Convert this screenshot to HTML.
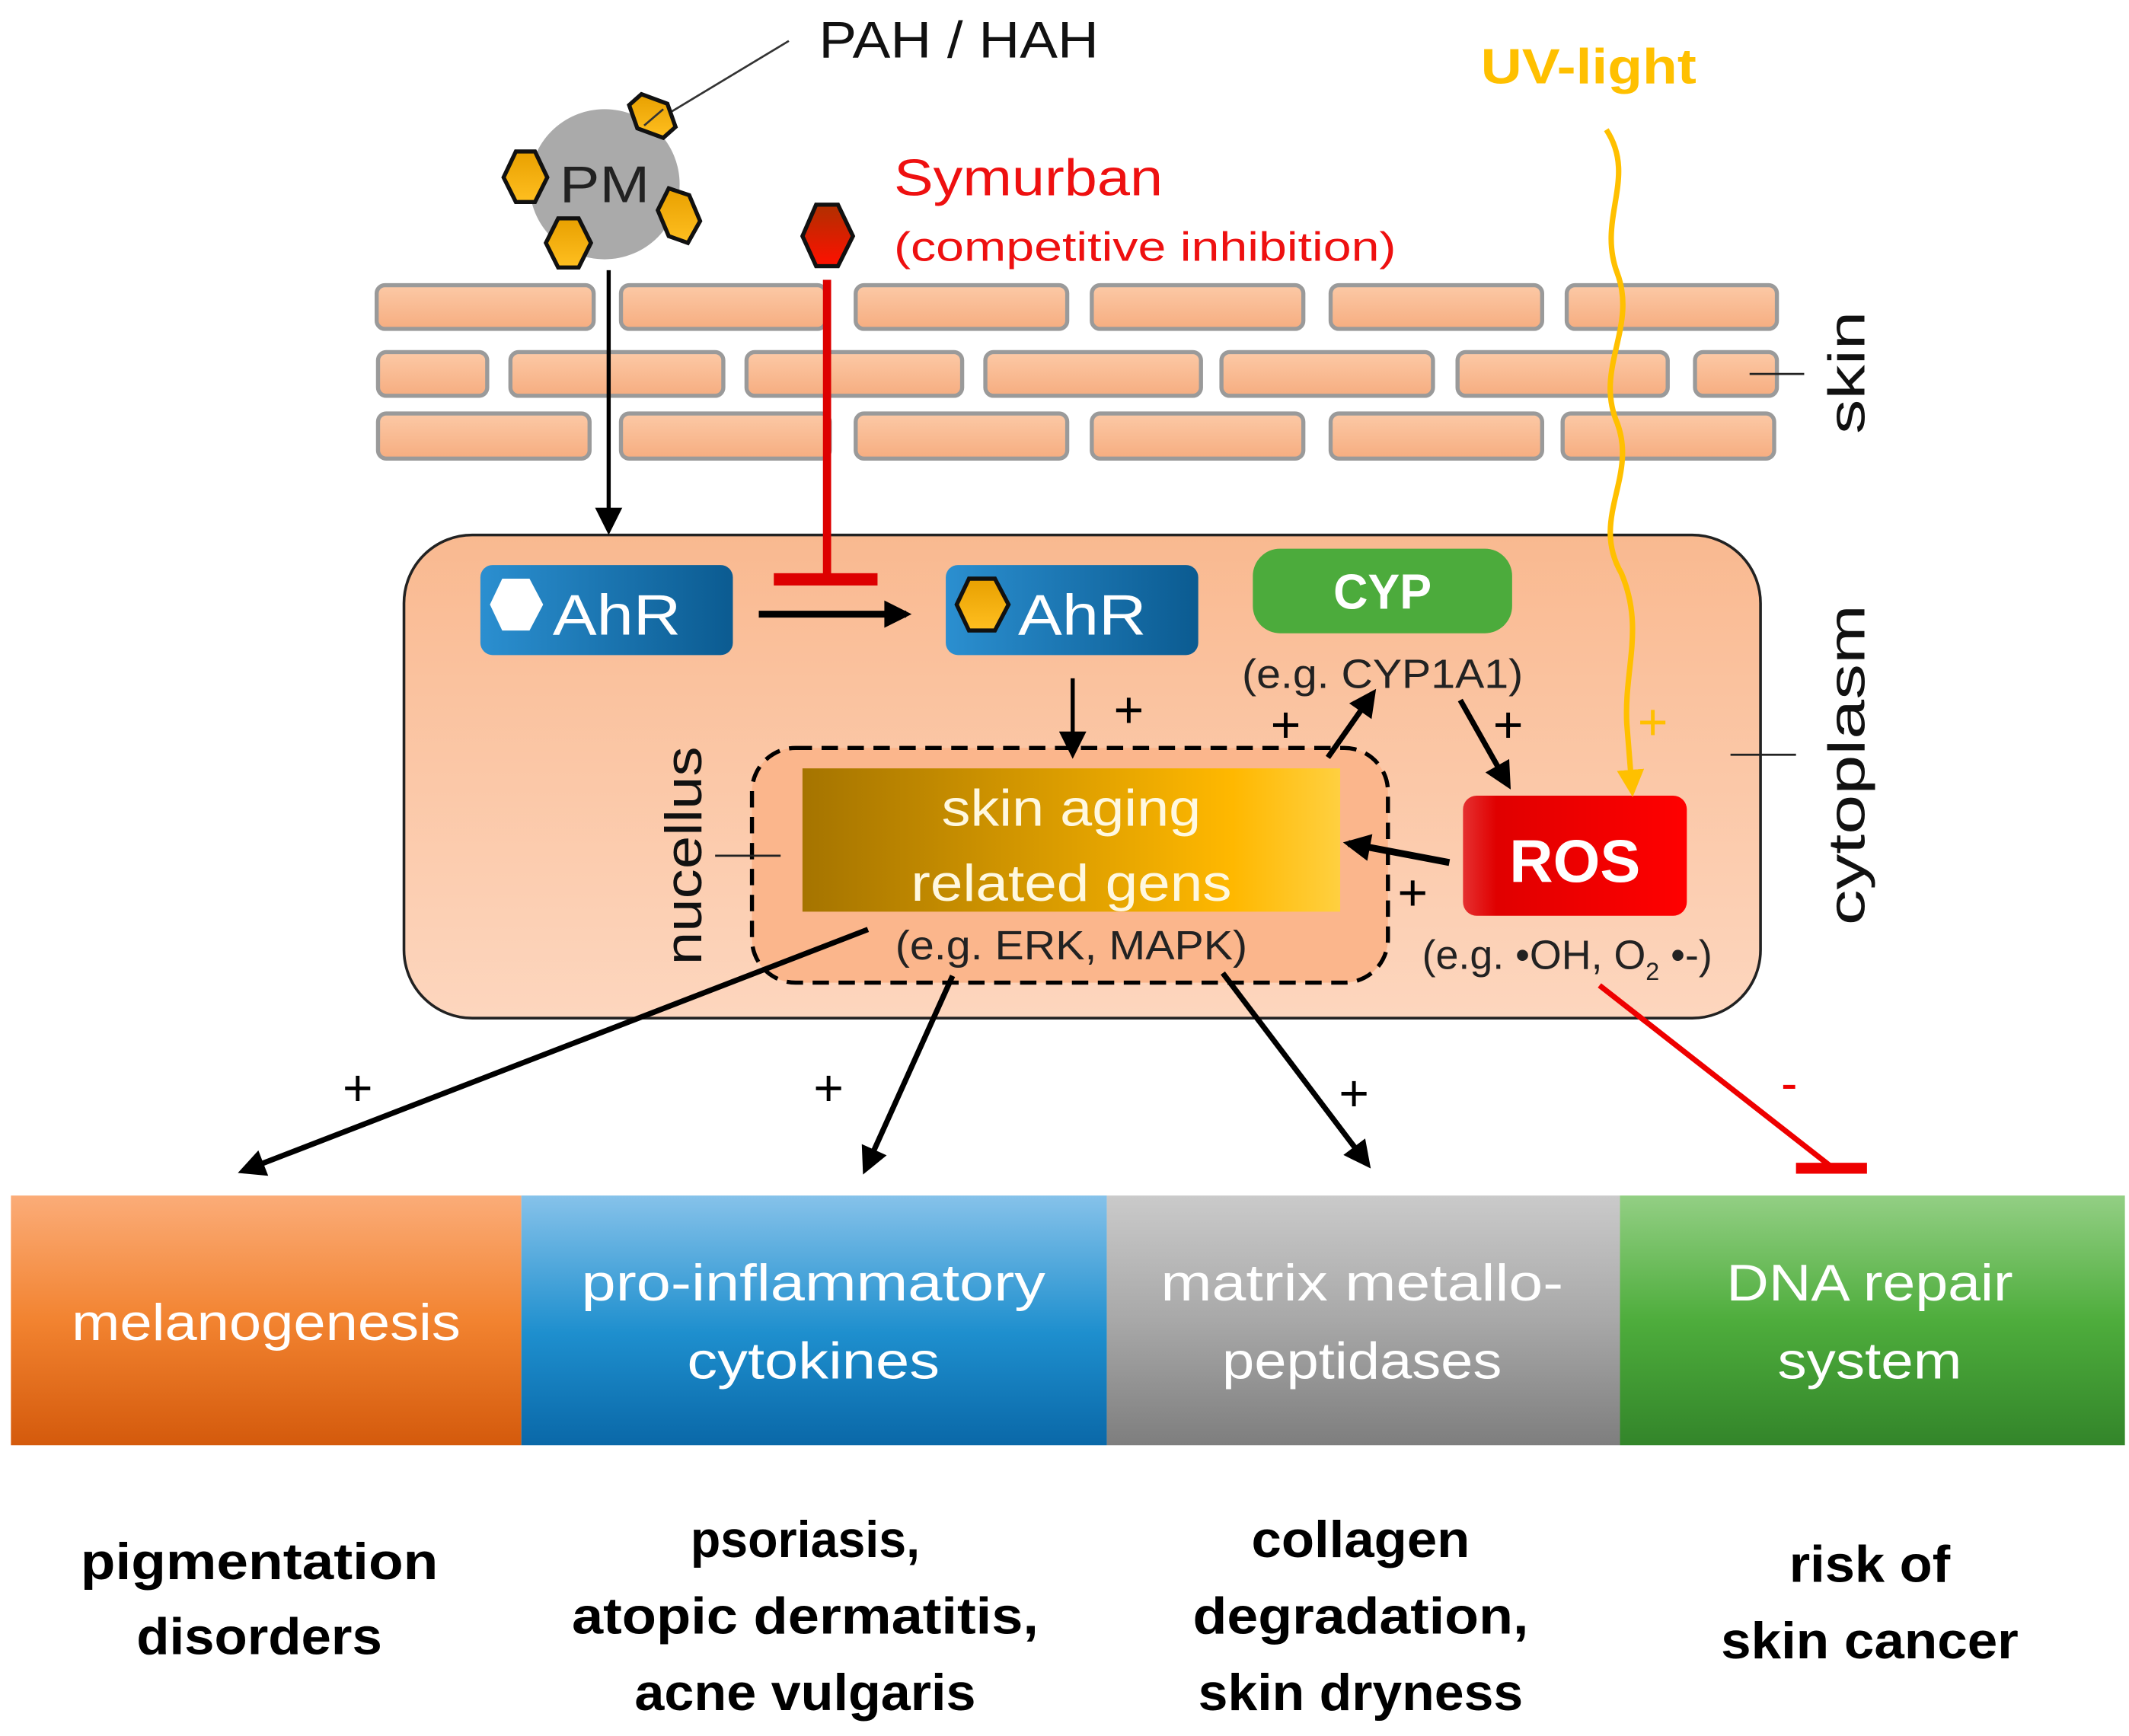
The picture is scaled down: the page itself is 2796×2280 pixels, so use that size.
<!DOCTYPE html>
<html><head><meta charset="utf-8"><style>html,body{margin:0;padding:0;background:#fff}svg{display:block}text{font-family:"Liberation Sans",sans-serif}</style></head><body>
<svg width="2796" height="2280" viewBox="0 0 1560 1272" preserveAspectRatio="none" xmlns="http://www.w3.org/2000/svg">
<defs>
<linearGradient id="cyt" x1="0" y1="0" x2="0" y2="1"><stop offset="0" stop-color="#f9b990"/><stop offset="1" stop-color="#fdd6be"/></linearGradient>
<linearGradient id="brick" x1="0" y1="0" x2="0" y2="1"><stop offset="0" stop-color="#fcc9a6"/><stop offset="1" stop-color="#f6ad80"/></linearGradient>
<linearGradient id="ahr" x1="0" y1="0" x2="1" y2="0"><stop offset="0" stop-color="#2b8fd0"/><stop offset="1" stop-color="#0b5b91"/></linearGradient>
<linearGradient id="sag" x1="0" y1="0" x2="1" y2="0"><stop offset="0" stop-color="#a57400"/><stop offset="0.8" stop-color="#ffb800"/><stop offset="1" stop-color="#ffd040"/></linearGradient>
<linearGradient id="ros" x1="0" y1="0" x2="1" y2="0"><stop offset="0" stop-color="#e53030"/><stop offset="0.15" stop-color="#e00000"/><stop offset="1" stop-color="#ff0000"/></linearGradient>
<linearGradient id="g1" x1="0" y1="0" x2="0" y2="1"><stop offset="0" stop-color="#fbac78"/><stop offset="0.5" stop-color="#f28330"/><stop offset="1" stop-color="#d45a0c"/></linearGradient>
<linearGradient id="g2" x1="0" y1="0" x2="0" y2="1"><stop offset="0" stop-color="#86c2ea"/><stop offset="0.55" stop-color="#1e8fce"/><stop offset="1" stop-color="#0a68a8"/></linearGradient>
<linearGradient id="g3" x1="0" y1="0" x2="0" y2="1"><stop offset="0" stop-color="#cacaca"/><stop offset="0.5" stop-color="#a8a8a8"/><stop offset="1" stop-color="#7e7e7e"/></linearGradient>
<linearGradient id="g4" x1="0" y1="0" x2="0" y2="1"><stop offset="0" stop-color="#93cf84"/><stop offset="0.5" stop-color="#4ead3c"/><stop offset="1" stop-color="#33852a"/></linearGradient>
<linearGradient id="hex" x1="0" y1="0" x2="0" y2="1"><stop offset="0" stop-color="#e8a000"/><stop offset="1" stop-color="#ffbf20"/></linearGradient>
<linearGradient id="rhex" x1="0" y1="0" x2="0" y2="1"><stop offset="0" stop-color="#b03000"/><stop offset="1" stop-color="#ff1000"/></linearGradient>
<marker id="ah" viewBox="0 0 10 10" refX="8" refY="5" markerUnits="userSpaceOnUse" markerWidth="22" markerHeight="20" orient="auto"><path d="M0,0 L10,5 L0,10 z" fill="#000"/></marker>
<marker id="ay" viewBox="0 0 10 10" refX="8" refY="5" markerUnits="userSpaceOnUse" markerWidth="20" markerHeight="20" orient="auto"><path d="M0,0 L10,5 L0,10 z" fill="#ffc000"/></marker>
</defs>

<text x="600" y="42" font-size="38" fill="#111" textLength="205" lengthAdjust="spacingAndGlyphs">PAH / HAH</text>
<line x1="578" y1="30" x2="485" y2="86" stroke="#333" stroke-width="1.5"/>
<text x="1085" y="61" font-size="36" font-weight="bold" fill="#ffc000" textLength="158" lengthAdjust="spacingAndGlyphs">UV-light</text>
<text x="655" y="143" font-size="38" fill="#ee1010" textLength="197" lengthAdjust="spacingAndGlyphs">Symurban</text>
<text x="655" y="191" font-size="30" fill="#ee1010" textLength="368" lengthAdjust="spacingAndGlyphs">(competitive inhibition)</text>

<circle cx="443" cy="135" r="55" fill="#aaaaaa"/>
<text x="410" y="148" font-size="38" fill="#222" textLength="66" lengthAdjust="spacingAndGlyphs">PM</text>
<g fill="url(#hex)" stroke="#111" stroke-width="3">
<polygon points="470,69 489,76 495,93 486,101 467,94 461,77"/>
<polygon points="378,111 392,111 401,130 392,148 378,148 369,130"/>
<polygon points="409,160 424,160 433,178 424,196 409,196 400,178"/>
<polygon points="490,138 505,143 513,162 504,178 490,173 482,154"/>
</g>
<line x1="472" y1="92" x2="486" y2="80" stroke="#333" stroke-width="1.5"/>
<polygon points="598,150 614,150 625,173 614,195 598,195 588,173" fill="url(#rhex)" stroke="#111" stroke-width="3"/>

<g fill="url(#brick)" stroke="#9a9a9a" stroke-width="3">
<rect x="276" y="209" width="159" height="32" rx="6"/><rect x="455" y="209" width="150" height="32" rx="6"/><rect x="627" y="209" width="155" height="32" rx="6"/><rect x="800" y="209" width="155" height="32" rx="6"/><rect x="975" y="209" width="155" height="32" rx="6"/><rect x="1148" y="209" width="154" height="32" rx="6"/>
<rect x="277" y="258" width="80" height="32" rx="6"/><rect x="374" y="258" width="156" height="32" rx="6"/><rect x="547" y="258" width="158" height="32" rx="6"/><rect x="722" y="258" width="158" height="32" rx="6"/><rect x="895" y="258" width="155" height="32" rx="6"/><rect x="1068" y="258" width="154" height="32" rx="6"/><rect x="1242" y="258" width="60" height="32" rx="6"/>
<rect x="277" y="303" width="155" height="33" rx="6"/><rect x="455" y="303" width="153" height="33" rx="6"/><rect x="627" y="303" width="155" height="33" rx="6"/><rect x="800" y="303" width="155" height="33" rx="6"/><rect x="975" y="303" width="155" height="33" rx="6"/><rect x="1145" y="303" width="155" height="33" rx="6"/>
</g>
<line x1="1282" y1="274" x2="1322" y2="274" stroke="#222" stroke-width="1.5"/>
<text transform="translate(1366,318) rotate(-90)" font-size="38" fill="#111" textLength="90" lengthAdjust="spacingAndGlyphs">skin</text>

<rect x="296" y="392" width="994" height="354" rx="50" fill="url(#cyt)" stroke="#222" stroke-width="2"/>
<line x1="1268" y1="553" x2="1316" y2="553" stroke="#222" stroke-width="1.5"/>
<text transform="translate(1366,678) rotate(-90)" font-size="38" fill="#111" textLength="235" lengthAdjust="spacingAndGlyphs">cytoplasm</text>

<line x1="446" y1="198" x2="446" y2="388" stroke="#000" stroke-width="3" marker-end="url(#ah)"/>
<line x1="606" y1="205" x2="606" y2="424" stroke="#dd0000" stroke-width="6"/>
<rect x="567" y="420" width="76" height="9" fill="#dd0000"/>

<rect x="352" y="414" width="185" height="66" rx="9" fill="url(#ahr)"/>
<polygon points="368,424 388,424 398,443 388,462 368,462 359,443" fill="#fff"/>
<text x="405" y="465" font-size="42" fill="#fff" textLength="94" lengthAdjust="spacingAndGlyphs">AhR</text>
<line x1="556" y1="450" x2="664" y2="450" stroke="#000" stroke-width="5" marker-end="url(#ah)"/>
<rect x="693" y="414" width="185" height="66" rx="9" fill="url(#ahr)"/>
<polygon points="710,424 729,424 739,443 729,462 710,462 701,443" fill="url(#hex)" stroke="#111" stroke-width="3"/>
<text x="746" y="465" font-size="42" fill="#fff" textLength="94" lengthAdjust="spacingAndGlyphs">AhR</text>

<rect x="918" y="402" width="190" height="62" rx="20" fill="#4cab3c"/>
<text x="1013" y="446" font-size="36" font-weight="bold" fill="#fff" text-anchor="middle" textLength="72" lengthAdjust="spacingAndGlyphs">CYP</text>
<text x="1013" y="504" font-size="30" fill="#222" text-anchor="middle" textLength="206" lengthAdjust="spacingAndGlyphs">(e.g. CYP1A1)</text>

<rect x="551" y="548" width="466" height="172" rx="32" fill="#fbb68c" stroke="#000" stroke-width="3" stroke-dasharray="12,7"/>
<rect x="588" y="563" width="394" height="105" fill="url(#sag)"/>
<text x="785" y="605" font-size="38" fill="#fff8e0" text-anchor="middle" textLength="190" lengthAdjust="spacingAndGlyphs">skin aging</text>
<text x="785" y="660" font-size="38" fill="#fff8e0" text-anchor="middle" textLength="235" lengthAdjust="spacingAndGlyphs">related gens</text>
<text x="785" y="703" font-size="30" fill="#222" text-anchor="middle" textLength="258" lengthAdjust="spacingAndGlyphs">(e.g. ERK, MAPK)</text>
<line x1="524" y1="627" x2="572" y2="627" stroke="#222" stroke-width="1.5"/>
<text transform="translate(514,707) rotate(-90)" font-size="38" fill="#111" textLength="160" lengthAdjust="spacingAndGlyphs">nucellus</text>

<rect x="1072" y="583" width="164" height="88" rx="10" fill="url(#ros)"/>
<text x="1154" y="646" font-size="44" font-weight="bold" fill="#fff" text-anchor="middle" textLength="96" lengthAdjust="spacingAndGlyphs">ROS</text>
<text x="1042" y="710" font-size="30" fill="#222">(e.g. •OH, O<tspan font-size="18" dy="8">2</tspan><tspan dy="-8"> •-)</tspan></text>

<line x1="786" y1="497" x2="786" y2="552" stroke="#000" stroke-width="3" marker-end="url(#ah)"/>
<text x="816" y="533" font-size="38" fill="#000">+</text>
<line x1="973" y1="555" x2="1006" y2="508" stroke="#000" stroke-width="4" marker-end="url(#ah)"/>
<text x="931" y="544" font-size="38" fill="#000">+</text>
<line x1="1070" y1="513" x2="1105" y2="575" stroke="#000" stroke-width="4" marker-end="url(#ah)"/>
<text x="1094" y="544" font-size="38" fill="#000">+</text>
<line x1="1062" y1="632" x2="988" y2="618" stroke="#000" stroke-width="5" marker-end="url(#ah)"/>
<text x="1024" y="667" font-size="38" fill="#000">+</text>

<path d="M1177,95 C1200,130 1170,160 1185,200 C1200,240 1168,270 1185,310 C1200,350 1165,380 1188,420 C1205,460 1190,490 1192,530 L1196,580" fill="none" stroke="#ffc000" stroke-width="4" marker-end="url(#ay)"/>
<text x="1200" y="542" font-size="38" fill="#ffc000">+</text>

<line x1="636" y1="681" x2="178" y2="858" stroke="#000" stroke-width="4" marker-end="url(#ah)"/>
<text x="251" y="810" font-size="38" fill="#000">+</text>
<line x1="698" y1="715" x2="634" y2="857" stroke="#000" stroke-width="4" marker-end="url(#ah)"/>
<text x="596" y="810" font-size="38" fill="#000">+</text>
<line x1="896" y1="713" x2="1002" y2="853" stroke="#000" stroke-width="4" marker-end="url(#ah)"/>
<text x="981" y="814" font-size="38" fill="#000">+</text>
<line x1="1172" y1="722" x2="1342" y2="855" stroke="#ee0000" stroke-width="4"/>
<rect x="1316" y="852" width="52" height="8" fill="#ee0000"/>
<text x="1305" y="806" font-size="36" fill="#ee0000">-</text>

<rect x="8" y="876" width="374" height="183" fill="url(#g1)"/>
<rect x="382" y="876" width="429" height="183" fill="url(#g2)"/>
<rect x="811" y="876" width="376" height="183" fill="url(#g3)"/>
<rect x="1187" y="876" width="370" height="183" fill="url(#g4)"/>
<g font-size="38" fill="#fff" text-anchor="middle">
<text x="195" y="982" textLength="285" lengthAdjust="spacingAndGlyphs">melanogenesis</text>
<text x="596" y="953" textLength="340" lengthAdjust="spacingAndGlyphs">pro-inflammatory</text>
<text x="596" y="1010" textLength="185" lengthAdjust="spacingAndGlyphs">cytokines</text>
<text x="998" y="953" textLength="295" lengthAdjust="spacingAndGlyphs">matrix metallo-</text>
<text x="998" y="1010" textLength="205" lengthAdjust="spacingAndGlyphs">peptidases</text>
<text x="1370" y="953" textLength="210" lengthAdjust="spacingAndGlyphs">DNA repair</text>
<text x="1370" y="1010" textLength="135" lengthAdjust="spacingAndGlyphs">system</text>
</g>
<g font-size="38" font-weight="bold" fill="#000" text-anchor="middle">
<text x="190" y="1157" textLength="262" lengthAdjust="spacingAndGlyphs">pigmentation</text>
<text x="190" y="1212" textLength="180" lengthAdjust="spacingAndGlyphs">disorders</text>
<text x="590" y="1141" textLength="168" lengthAdjust="spacingAndGlyphs">psoriasis,</text>
<text x="590" y="1197" textLength="342" lengthAdjust="spacingAndGlyphs">atopic dermatitis,</text>
<text x="590" y="1253" textLength="250" lengthAdjust="spacingAndGlyphs">acne vulgaris</text>
<text x="997" y="1141" textLength="160" lengthAdjust="spacingAndGlyphs">collagen</text>
<text x="997" y="1197" textLength="246" lengthAdjust="spacingAndGlyphs">degradation,</text>
<text x="997" y="1253" textLength="238" lengthAdjust="spacingAndGlyphs">skin dryness</text>
<text x="1370" y="1159" textLength="118" lengthAdjust="spacingAndGlyphs">risk of</text>
<text x="1370" y="1215" textLength="218" lengthAdjust="spacingAndGlyphs">skin cancer</text>
</g>
</svg>
</body></html>
